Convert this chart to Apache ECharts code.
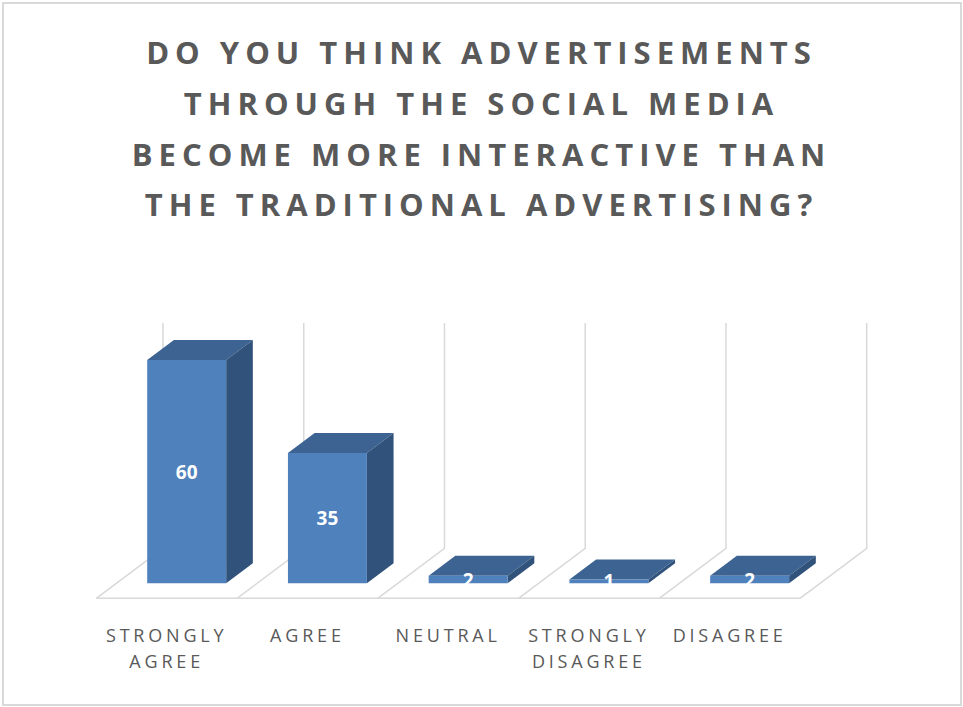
<!DOCTYPE html>
<html>
<head>
<meta charset="utf-8">
<script src="https://cdn.jsdelivr.net/npm/echarts@6/dist/echarts.min.js"></script>
<style>
  html, body { margin: 0; padding: 0; background: #ffffff; }
  #chart { width: 963px; height: 707px; }
  /* tracking for the heading and the category names */
  #chart text[style*="31px"] { letter-spacing: 6px; }
  #chart text[style*="18px"] { letter-spacing: 3.8px; }
</style>
</head>
<body>
<div id="chart"></div>
<script>
// Survey answers
const categories = ['STRONGLY\nAGREE', 'AGREE', 'NEUTRAL', 'STRONGLY\nDISAGREE', 'DISAGREE'];
const responses = [60, 35, 2, 1, 2];
const titleLines = [
  'DO YOU THINK ADVERTISEMENTS',
  'THROUGH THE SOCIAL MEDIA',
  'BECOME MORE INTERACTIVE THAN',
  'THE TRADITIONAL ADVERTISING?'
];
const valueMax = 60;

// Oblique 3D projection: full floor depth vector (pixels) and bar placement
const DEPTH_X = 66.7;
const DEPTH_Y = -50;
const BAR_FRONT = 0.3;
const BAR_BACK = 0.7;
const BAR_WIDTH = 0.561;

const COLOR_FRONT = '#4F81BD';
const COLOR_TOP = '#3C6391';
const COLOR_SIDE = '#31527A';
const COLOR_GRID = '#D9D9D9';

function renderFloor(params, api) {
  const idx = api.value(0);
  const base = api.coord([idx, 0]);
  const top = api.coord([idx, valueMax]);
  const band = api.size([1, 0])[0];
  const children = [];
  const lineStyle = { stroke: COLOR_GRID, lineWidth: 1.5, fill: null };
  const addBoundary = (x) => {
    const bx = x + DEPTH_X, by = base[1] + DEPTH_Y, ty = top[1] + DEPTH_Y - 2;
    children.push({ type: 'polyline', shape: { points: [[x, base[1]], [bx, by], [bx, ty]] }, style: lineStyle });
  };
  addBoundary(base[0] - band / 2);
  if (idx === categories.length - 1) addBoundary(base[0] + band / 2);
  if (idx === 0) {
    children.push({
      type: 'line',
      shape: { x1: base[0] - band / 2, y1: base[1], x2: base[0] - band / 2 + band * categories.length, y2: base[1] },
      style: lineStyle
    });
  }
  return { type: 'group', children };
}

function renderBar(params, api) {
  const idx = api.value(0);
  const val = api.value(1);
  const base = api.coord([idx, 0]);
  const peak = api.coord([idx, val]);
  const band = api.size([1, 0])[0];
  const half = band * BAR_WIDTH / 2;
  const cx = base[0] + DEPTH_X * BAR_FRONT;
  const yb = base[1] + DEPTH_Y * BAR_FRONT;
  const yt = peak[1] + DEPTH_Y * BAR_FRONT;
  const L = cx - half, R = cx + half;
  const dx = DEPTH_X * (BAR_BACK - BAR_FRONT);
  const dy = DEPTH_Y * (BAR_BACK - BAR_FRONT);
  return {
    type: 'group',
    children: [
      { type: 'polygon', shape: { points: [[L, yt], [R, yt], [R + dx, yt + dy], [L + dx, yt + dy]] }, style: { fill: COLOR_TOP } },
      { type: 'polygon', shape: { points: [[R, yt], [R, yb], [R + dx, yb + dy], [R + dx, yt + dy]] }, style: { fill: COLOR_SIDE } },
      { type: 'rect', shape: { x: L, y: yt, width: R - L, height: yb - yt }, style: { fill: COLOR_FRONT } },
      {
        type: 'text',
        style: {
          text: String(val), x: cx, y: (yt + yb) / 2,
          align: 'center', verticalAlign: 'middle',
          fill: '#FFFFFF', font: 'bold 19px "Open Sans", sans-serif'
        }
      }
    ]
  };
}

const chart = echarts.init(document.getElementById('chart'), null, { renderer: 'svg' });
chart.setOption({
  animation: false,
  backgroundColor: '#FFFFFF',
  title: {
    text: titleLines.join('\n'),
    left: 'center',
    top: 22,
    textStyle: {
      fontFamily: '"Open Sans", sans-serif',
      fontSize: 31,
      fontWeight: 'bold',
      color: '#595959',
      lineHeight: 50.7
    }
  },
  graphic: [{
    type: 'rect',
    shape: { x: 3, y: 3, width: 958, height: 702 },
    style: { fill: null, stroke: COLOR_GRID, lineWidth: 2 },
    silent: true
  }],
  grid: { left: 96.3, right: 163, top: 375, bottom: 108.7 },
  xAxis: {
    type: 'category',
    data: categories,
    axisLine: { show: false },
    axisTick: { show: false },
    splitLine: { show: false },
    axisLabel: {
      interval: 0,
      margin: 24,
      fontFamily: '"Open Sans", sans-serif',
      fontSize: 18,
      lineHeight: 26,
      color: '#595959'
    }
  },
  yAxis: { type: 'value', min: 0, max: valueMax, show: false },
  series: [
    {
      type: 'custom',
      name: 'floor',
      z: 1,
      silent: true,
      renderItem: renderFloor,
      data: categories.map((c, i) => [i, 0])
    },
    {
      type: 'custom',
      name: 'responses',
      z: 2,
      renderItem: renderBar,
      data: responses.map((v, i) => [i, v])
    }
  ]
});
</script>
</body>
</html>
